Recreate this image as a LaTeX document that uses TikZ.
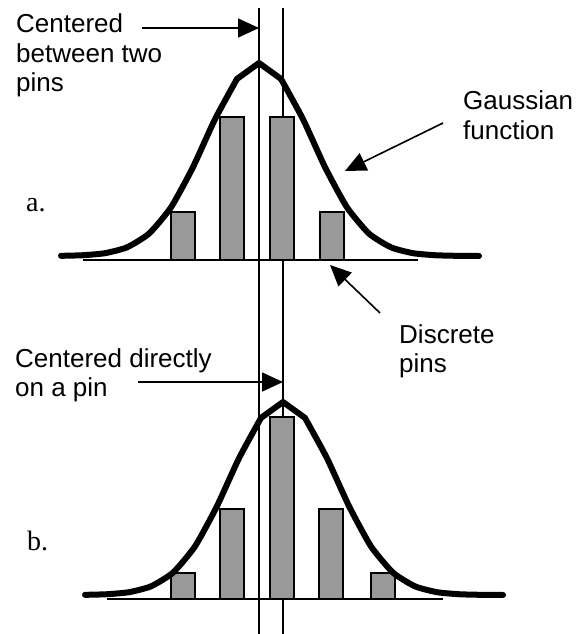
\documentclass[tikz,border=0pt]{standalone}
\usepackage{fontspec}
\setmainfont{Liberation Sans}
\newfontfamily\romfont{Liberation Serif}
\usetikzlibrary{arrows.meta}
\definecolor{pingray}{HTML}{999999}
\tikzset{epais/.style={line width=6pt,line join=round,line cap=round}}
\newcommand{\pin}[3]{\draw[fill=pingray,line width=1.3pt] (#1-12,#2) rectangle (#1+12,#3)}
\newcommand{\gauss}[2]{\draw[epais]
 	plot[smooth,tension=0.35,domain=-198:-22,samples=9] ({#1+\x},{#2-193*exp(-0.5*((\x)/53)^2)})
 	-- (#1,#2-193)
 	-- plot[smooth,tension=0.35,domain=22:220,samples=10] ({#1+\x},{#2-193*exp(-0.5*((\x)/53)^2)})}
\newcommand{\axe}[3]{\draw[line width=1.3pt] (#1,#3) -- (#2,#3)}
\newcommand{\guide}[1]{\draw[line width=1.3pt] (#1,8) -- (#1,634)}

\begin{document}
\begin{tikzpicture}[x=1pt,y=-1pt,
	caption/.style={anchor=base west,inner sep=0pt,align=left,
		font=\fontsize{26}{29.5}\selectfont},
	tag/.style={anchor=base west,inner sep=0pt,font=\romfont\fontsize{28}{30}\selectfont},
	pointer/.style={-{Triangle[length=21pt,width=19pt]},line width=1.6pt}]
\useasboundingbox (0,0) rectangle (584,634);
%Guides
	\guide{259};
	\guide{283};
%The first sampling
	\axe{83}{418}{260};
	\pin{183}{260}{212};
	\pin{232}{260}{117};
	\pin{282}{260}{117};
	\pin{332}{260}{212};
	\gauss{259}{256};
	\node[tag] (a) at (26,211) {a.};
%The second sampling
	\axe{107}{443}{599};
	\pin{183}{599}{573};
	\pin{232}{599}{509};
	\pin{282}{599}{417};
	\pin{331}{599}{509};
	\pin{383}{599}{573};
	\gauss{283}{595};
	\node[tag] (b) at (27,550) {b.};
%Labels (anchored on the last line)
	\node[caption] (between) at (16,92) {Centered\\between two\\pins};
	\node[caption] (gaussian) at (463,139) {Gaussian\\function};
	\node[caption] (discrete) at (399,372.5) {Discrete\\pins};
	\node[caption] (directly) at (15,396.5) {Centered directly\\on a pin};
%Pointers
	\coordinate (betweentail) at (142,28);
	\coordinate (betweentip) at (259,28);
	\coordinate (gaussiantail) at (443,123);
	\coordinate (gaussiantip) at (345,171);
	\coordinate (discretetail) at (380,313);
	\coordinate (discretetip) at (330,265);
	\coordinate (directlytail) at (138,382);
	\coordinate (directlytip) at (283,382);
	\draw[pointer] (betweentail) -- (betweentip);
	\draw[pointer] (gaussiantail) -- (gaussiantip);
	\draw[pointer] (discretetail) -- (discretetip);
	\draw[pointer] (directlytail) -- (directlytip);
\end{tikzpicture}
\end{document}
